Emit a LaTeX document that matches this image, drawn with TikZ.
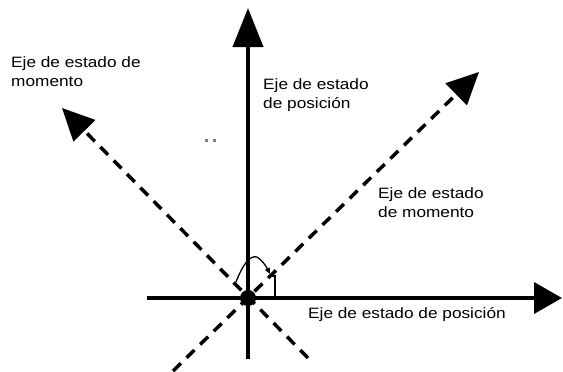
\documentclass[tikz,border=0pt]{standalone}
\usepackage{fontspec}
\newfontfamily\lblfont[FakeStretch=1.15]{Liberation Sans}
\usetikzlibrary{arrows.meta}
\begin{document}
\begin{tikzpicture}[x=1pt,y=-1pt,
  axis/.style={line width=4pt},
  dax/.style={line width=3.5pt, dash pattern=on 11pt off 8pt},
  thinl/.style={line width=1.3pt},
  lbl/.style={font=\lblfont\fontsize{15}{19}\selectfont, inner sep=0pt, align=left, anchor=north west}]
\useasboundingbox[fill=white] (0,0) rectangle (563,372);
% key points
\coordinate (O) at (248,298);
\coordinate (vb) at (248,359);
\coordinate (vt) at (248,8);
\coordinate (hl) at (147,298);
\coordinate (hr) at (562,298);
\coordinate (dlr) at (308,358);
\coordinate (dul) at (62,108);
\coordinate (dll) at (173,371);
\coordinate (dur) at (479,72);
% solid axes
\draw[axis,-{Triangle[length=39pt,width=30pt]}] (vb) -- (vt);
\draw[axis,-{Triangle[length=28pt,width=31pt]}] (hl) -- (hr);
% dashed axes
\draw[dax,-{Triangle[length=32pt,width=30pt]}] (dlr) -- (dul);
\draw[dax,-{Triangle[length=32pt,width=30pt]}] (dll) -- (dur);
% origin dot
\fill (O) circle (8pt);
% angle mark
\coordinate (a1) at (236,282);
\coordinate (a2) at (257,257);
\coordinate (a3) at (270,274);
\coordinate (r1) at (268,276);
\coordinate (r2) at (275,276);
\coordinate (r3) at (275,298);
\draw[thinl,-{Triangle[length=6pt,width=5pt]}] (a1) .. controls (243,264) and (250,255) .. (a2) .. controls (262,260) and (266,266) .. (a3);
\draw[thinl] (r1) -- (r2) -- (r3);
% stray dots
\fill[gray] (204.5,138.5) rectangle (207.5,141.5);
\fill[gray] (212.5,138.5) rectangle (215.5,141.5);
% labels
\node[lbl] (l1) at (11,56) {Eje de estado de\\momento};
\node[lbl] (l2) at (263,78) {Eje de estado\\de posición};
\node[lbl] (l3) at (378,187) {Eje de estado\\de momento};
\node[lbl] (l4) at (308,307) {Eje de estado de posición};
\end{tikzpicture}
\end{document}
